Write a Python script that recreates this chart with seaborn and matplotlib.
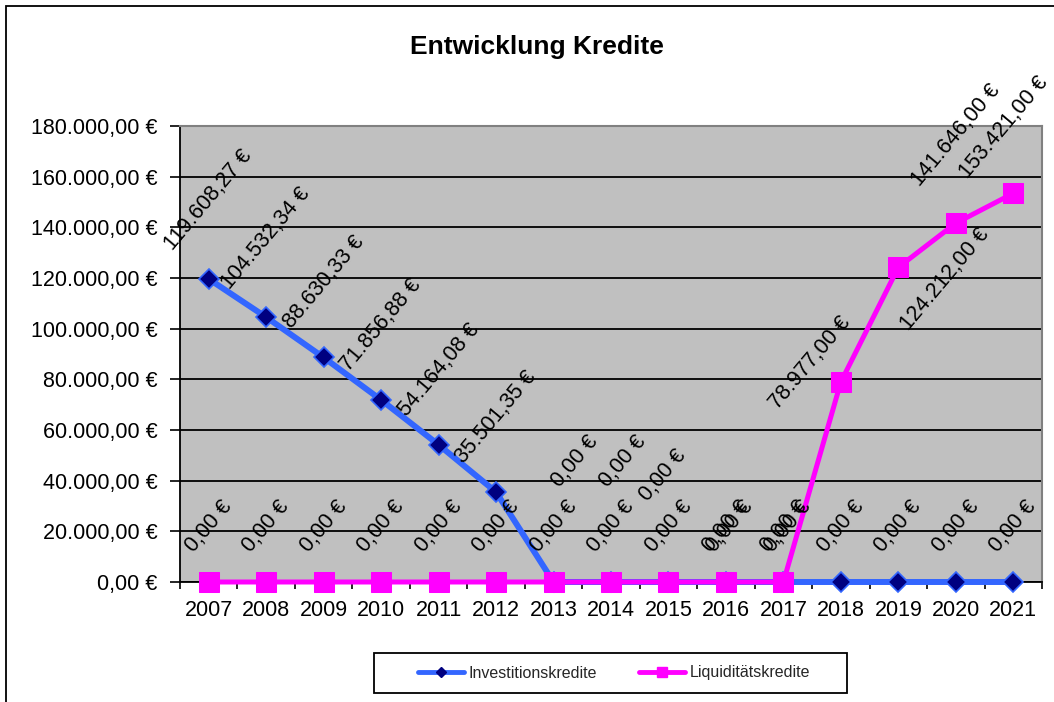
import numpy as np
import pandas as pd
import matplotlib
matplotlib.use("Agg")
import matplotlib.pyplot as plt
from matplotlib.lines import Line2D
from matplotlib.patches import Rectangle
import seaborn as sns

# ---------------- data ----------------
years = ["2007", "2008", "2009", "2010", "2011", "2012", "2013", "2014",
         "2015", "2016", "2017", "2018", "2019", "2020", "2021"]
investitionskredite = [119608.27, 104532.34, 88630.33, 71856.88, 54164.08, 35501.35,
                       0, 0, 0, 0, 0, 0, 0, 0, 0]
liquiditaetskredite = [0, 0, 0, 0, 0, 0, 0, 0, 0, 0, 0,
                       78977.00, 124212.00, 141646.00, 153421.00]
y_ticks = [0, 20000, 40000, 60000, 80000, 100000, 120000, 140000, 160000, 180000]
title = "Entwicklung Kredite"
series_names = ["Investitionskredite", "Liquiditätskredite"]

# label centre offsets (pixels) relative to each point – layout only
inv_label_off = [(0, 79), (0, 79), (0, 75), (0, 75), (0, 75), (0, 75),
                 (21, 121), (12, 121), (-6, 107), (4, 56), (4, 56),
                 (0, 56), (0, 56), (0, 56), (0, 56)]
liq_label_off = [(0, 56)] * 11 + [(-31, 19), (47, -12), (0, 88), (-9, 66)]

BLUE = "#3366FF"
NAVY = "#000080"
MAGENTA = "#FF00FF"
GRAY = "#C0C0C0"
LABEL_ROT = 50


def eur(v):
    s = f"{v:,.2f}"
    s = s.replace(",", "X").replace(".", ",").replace("X", ".")
    return s + " €"


sns.set_style("white")
plt.rcParams["font.family"] = ["Liberation Sans", "DejaVu Sans"]

W, H = 1054, 702
fig = plt.figure(figsize=(W / 100, H / 100), dpi=100)
ax = fig.add_axes([180 / W, 1 - 582 / H, (1042 - 180) / W, (582 - 126) / H])
ax.set_facecolor(GRAY)

df = pd.DataFrame({"Jahr": years, "inv": investitionskredite, "liq": liquiditaetskredite})
x_idx = np.arange(len(years))
df["pos"] = x_idx

sns.lineplot(data=df, x="pos", y="inv", ax=ax, color=BLUE, linewidth=4.3,
             marker="D", markersize=10, markerfacecolor=NAVY, markeredgecolor=BLUE,
             markeredgewidth=1.2, clip_on=False, zorder=3, legend=False)
sns.lineplot(data=df, x="pos", y="liq", ax=ax, color=MAGENTA, linewidth=3.6,
             marker="s", markersize=15, markerfacecolor=MAGENTA, markeredgecolor=MAGENTA,
             clip_on=False, zorder=4, legend=False)

ax.set_xlim(-0.5, len(years) - 0.5)
ax.set_ylim(0, 180000)
ax.set_yticks(y_ticks)
ax.set_yticklabels([eur(v) for v in y_ticks])
ax.set_xticks(x_idx)
ax.set_xticklabels(years)
ax.set_xticks(np.arange(-0.5, len(years), 1), minor=True)
ax.set_xlabel("")
ax.set_ylabel("")

ax.yaxis.grid(True, color="black", linewidth=1.3)
ax.set_axisbelow(True)
ax.tick_params(axis="y", which="major", direction="out", length=7, width=1.2,
               color="black", pad=9, labelsize=15.5, labelcolor="black", left=True)
ax.tick_params(axis="x", which="major", length=0, pad=13, labelsize=15.5, labelcolor="black")
ax.tick_params(axis="x", which="minor", direction="out", length=5, width=1.2,
               color="black", bottom=True)

for side in ["left", "bottom"]:
    ax.spines[side].set_color("black")
    ax.spines[side].set_linewidth(1.3)
for side in ["right", "top"]:
    ax.spines[side].set_color("#808080")
    ax.spines[side].set_linewidth(1.5)

# data labels
for i, v in enumerate(investitionskredite):
    dx, dy = inv_label_off[i]
    ax.annotate(eur(v), xy=(x_idx[i], v), xytext=(dx, dy), textcoords="offset pixels",
                ha="center", va="center", rotation=LABEL_ROT, rotation_mode="anchor",
                fontsize=15.5, color="black", zorder=6, annotation_clip=False)
for i, v in enumerate(liquiditaetskredite):
    dx, dy = liq_label_off[i]
    ax.annotate(eur(v), xy=(x_idx[i], v), xytext=(dx, dy), textcoords="offset pixels",
                ha="center", va="center", rotation=LABEL_ROT, rotation_mode="anchor",
                fontsize=15.5, color="black", zorder=6, annotation_clip=False)

# title
fig.text(537 / W, 1 - 47 / H, title, ha="center", va="center",
         fontsize=19, fontweight="bold", color="black")

# legend
handles = [
    Line2D([], [], color=BLUE, linewidth=3.5, marker="D", markersize=5.5,
           markerfacecolor=NAVY, markeredgecolor=NAVY),
    Line2D([], [], color=MAGENTA, linewidth=3.5, marker="s", markersize=7,
           markerfacecolor=MAGENTA, markeredgecolor=MAGENTA),
]
fig.legend(handles, series_names, loc="center", bbox_to_anchor=(614 / W, 1 - 673 / H),
           ncol=2, frameon=False, fontsize=11.5, handlelength=2.9, handletextpad=0.3,
           columnspacing=2.6)
fig.patches.append(Rectangle((374 / W, 1 - 693 / H), (847 - 374) / W, 40 / H,
                             transform=fig.transFigure, fill=False, edgecolor="black",
                             linewidth=1.3))
# outer chart frame (left/top visible)
fig.patches.append(Rectangle((6 / W, -0.1), 1.2, 1.1 - 6 / H, transform=fig.transFigure,
                             fill=False, edgecolor="black", linewidth=1.3))

fig.savefig("out.png", dpi=100, facecolor="white")
